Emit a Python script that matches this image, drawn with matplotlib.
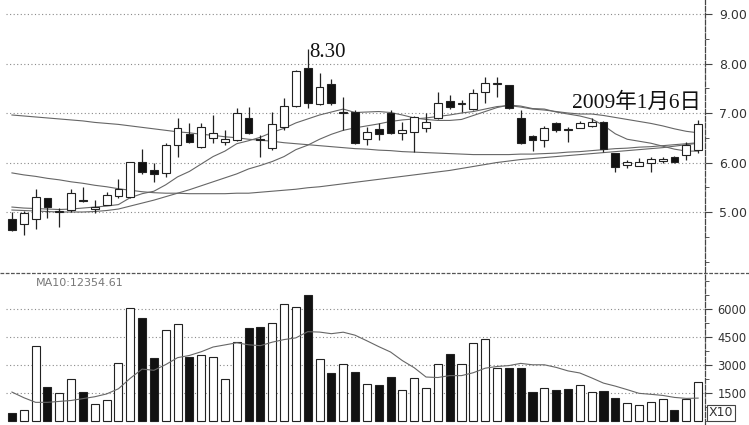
import matplotlib
matplotlib.use('Agg')
import matplotlib.pyplot as plt
from matplotlib.lines import Line2D
from matplotlib.ticker import FixedLocator, MultipleLocator
import numpy as np

# ---------------- data ----------------
opens  = [4.86, 4.76, 4.86, 5.28, 5.00, 5.04, 5.24, 5.06, 5.14, 5.32,
          5.30, 6.01, 5.85, 5.79, 6.35, 6.58, 6.31, 6.49, 6.41, 6.45,
          6.90, 6.47, 6.29, 6.72, 7.14, 7.91, 7.18, 7.59, 7.00, 7.02,
          6.47, 6.68, 7.00, 6.60, 6.62, 6.70, 6.90, 7.24, 7.18, 7.08,
          7.42, 7.58, 7.57, 6.90, 6.54, 6.45, 6.80, 6.68, 6.70, 6.74,
          6.82, 6.19, 5.95, 5.93, 5.99, 6.04, 6.12, 6.15, 6.25]
highs  = [5.00, 5.02, 5.46, 5.28, 5.08, 5.46, 5.50, 5.24, 5.40, 5.67,
          6.01, 6.27, 5.99, 6.40, 6.90, 6.80, 6.80, 6.96, 6.66, 7.10,
          7.12, 6.56, 7.02, 7.30, 7.87, 8.30, 7.81, 7.69, 7.32, 7.06,
          6.72, 6.80, 7.06, 6.82, 6.94, 7.00, 7.42, 7.36, 7.26, 7.48,
          7.73, 7.73, 7.57, 7.06, 6.56, 6.74, 6.82, 6.72, 6.84, 6.90,
          6.84, 6.20, 6.05, 6.09, 6.11, 6.12, 6.14, 6.41, 6.86]
lows   = [4.62, 4.54, 4.66, 4.88, 4.70, 5.00, 5.20, 4.98, 5.14, 5.28,
          5.28, 5.77, 5.61, 5.71, 6.11, 6.40, 6.30, 6.39, 6.35, 6.43,
          6.58, 6.11, 6.25, 6.66, 7.12, 7.10, 7.16, 7.16, 6.66, 6.37,
          6.35, 6.45, 6.58, 6.45, 6.21, 6.62, 6.88, 7.08, 7.02, 7.06,
          7.20, 7.32, 7.08, 6.37, 6.23, 6.31, 6.62, 6.41, 6.70, 6.72,
          6.21, 5.81, 5.89, 5.93, 5.81, 6.00, 6.00, 6.05, 6.20]
closes = [4.64, 4.98, 5.30, 5.10, 5.02, 5.38, 5.22, 5.10, 5.34, 5.46,
          6.01, 5.81, 5.77, 6.35, 6.70, 6.41, 6.72, 6.60, 6.47, 7.00,
          6.60, 6.45, 6.78, 7.14, 7.85, 7.20, 7.53, 7.20, 7.02, 6.39,
          6.62, 6.58, 6.60, 6.66, 6.92, 6.82, 7.20, 7.12, 7.20, 7.40,
          7.61, 7.60, 7.10, 6.39, 6.45, 6.70, 6.66, 6.66, 6.80, 6.82,
          6.27, 5.91, 6.01, 6.01, 6.07, 6.08, 6.02, 6.35, 6.78]
volumes = [430, 600, 4000, 1820, 1500, 2250, 1550, 900, 1120, 3100,
           6050, 5500, 3380, 4880, 5200, 3430, 3540, 3430, 2250, 4230,
           4980, 5040, 5250, 6270, 6110, 6750, 3320, 2570, 3050, 2620,
           1980, 1930, 2360, 1660, 2300, 1770, 3050, 3590, 3050, 4180,
           4400, 2840, 2840, 2840, 1550, 1770, 1660, 1710, 1930, 1550,
           1610, 1230, 960, 860, 1020, 1180, 590, 1180, 2090]
ma10 = [5.10, 5.08, 5.07, 5.06, 5.05, 5.06, 5.08, 5.10, 5.12, 5.15,
        5.29, 5.37, 5.42, 5.55, 5.71, 5.82, 5.97, 6.12, 6.23, 6.38,
        6.44, 6.51, 6.61, 6.69, 6.80, 6.88, 6.96, 7.02, 7.08, 7.01,
        7.02, 7.03, 7.01, 6.96, 6.90, 6.87, 6.85, 6.85, 6.87, 6.95,
        7.03, 7.11, 7.16, 7.14, 7.09, 7.08, 7.02, 6.98, 6.94, 6.88,
        6.75, 6.58, 6.47, 6.43, 6.39, 6.33, 6.27, 6.23, 6.23]
ma20 = [5.04, 5.03, 5.02, 5.01, 5.00, 5.00, 5.00, 5.01, 5.03, 5.06,
        5.12, 5.18, 5.24, 5.31, 5.38, 5.45, 5.53, 5.61, 5.69, 5.77,
        5.87, 5.94, 6.02, 6.12, 6.26, 6.35, 6.47, 6.57, 6.65, 6.70,
        6.74, 6.78, 6.83, 6.86, 6.88, 6.90, 6.93, 6.96, 7.00, 7.03,
        7.08, 7.13, 7.15, 7.12, 7.08, 7.06, 7.03, 7.00, 6.98, 6.98,
        6.95, 6.91, 6.87, 6.83, 6.79, 6.74, 6.68, 6.63, 6.60]
ma60 = [5.79, 5.75, 5.72, 5.68, 5.65, 5.61, 5.58, 5.54, 5.51, 5.47,
        5.44, 5.41, 5.39, 5.38, 5.38, 5.37, 5.37, 5.37, 5.37, 5.38,
        5.38, 5.40, 5.42, 5.44, 5.46, 5.49, 5.51, 5.54, 5.57, 5.60,
        5.63, 5.66, 5.69, 5.72, 5.75, 5.78, 5.81, 5.84, 5.88, 5.92,
        5.96, 6.00, 6.03, 6.06, 6.08, 6.10, 6.12, 6.14, 6.16, 6.18,
        6.20, 6.22, 6.24, 6.26, 6.28, 6.30, 6.33, 6.36, 6.39]
ma120 = [6.96, 6.94, 6.92, 6.90, 6.88, 6.86, 6.84, 6.81, 6.79, 6.77,
         6.74, 6.71, 6.68, 6.65, 6.62, 6.60, 6.57, 6.55, 6.52, 6.50,
         6.47, 6.45, 6.43, 6.40, 6.38, 6.36, 6.34, 6.32, 6.30, 6.28,
         6.27, 6.25, 6.24, 6.22, 6.21, 6.20, 6.19, 6.18, 6.17, 6.16,
         6.16, 6.16, 6.16, 6.17, 6.17, 6.18, 6.19, 6.21, 6.22, 6.24,
         6.26, 6.28, 6.29, 6.31, 6.32, 6.34, 6.36, 6.38, 6.40]
vol_ma10 = [1550, 1250, 1000, 1000, 1050, 1100, 1200, 1300, 1450, 1727,
            2289, 2779, 2717, 3023, 3393, 3511, 3710, 3963, 4076, 4189,
            4082, 4036, 4223, 4362, 4453, 4785, 4763, 4677, 4757, 4596,
            4296, 3985, 3696, 3235, 2854, 2356, 2329, 2431, 2431, 2587,
            2829, 2920, 2968, 3086, 3011, 3011, 2872, 2684, 2572, 2309,
            2030, 1869, 1681, 1483, 1430, 1371, 1264, 1211, 1227]
price_ticks = [5, 6, 7, 8, 9]
price_labels = ['5.00', '6.00', '7.00', '8.00', '9.00']
vol_ticks = [1500, 3000, 4500, 6000]
vol_labels = ['1500', '3000', '4500', '6000']
peak_label = '8.30'
date_label = '2009年1月6日'
ma_label = 'MA10:12354.61'

# ---------------- layout ----------------
W, H = 749, 425
fig = plt.figure(figsize=(W / 100, H / 100), dpi=100)
fig.patch.set_facecolor('white')
ax = fig.add_axes([0, 1 - 272 / H, 705 / W, 272 / H])
axv = fig.add_axes([0, 1 - 424 / H, 705 / W, 151 / H])

n = len(closes)
idx = np.arange(n)
xlim = (-1.01, 58.58)
edge = '#222222'
grid_col = '#8a8a8a'
ma_col = '#666666'

# candles
bw = 0.66
for i in range(n):
    o, h, l, c = opens[i], highs[i], lows[i], closes[i]
    up = c >= o
    top, bot = max(o, c), min(o, c)
    ax.vlines(i, top, h, color=edge, lw=0.9, zorder=3)
    ax.vlines(i, l, bot, color=edge, lw=0.9, zorder=3)
    ax.bar(i, max(top - bot, 0.012), bottom=bot, width=bw,
           facecolor='white' if up else '#111111',
           edgecolor=edge, lw=0.8, zorder=4)

for ser in (ma10, ma20, ma60, ma120):
    ax.plot(idx, ser, color=ma_col, lw=0.8, zorder=2)

ax.set_xlim(*xlim)
ax.set_ylim(3.788, 9.283)

# volume
vcols = ['white' if closes[i] >= opens[i] else '#111111' for i in range(n)]
axv.bar(idx, volumes, width=0.68, color=vcols, edgecolor=edge, lw=0.8, zorder=3)
axv.plot(idx, vol_ma10, color=ma_col, lw=0.8, zorder=4)
axv.set_xlim(*xlim)
axv.set_ylim(-160, 7927)

for a, ticks, labels, minor, lsz, pad in ((ax, price_ticks, price_labels, 0.5, 9, 5),
                                          (axv, vol_ticks, vol_labels, 750, 8.3, 4)):
    for t in ticks:
        a.axhline(t, xmin=0.008, xmax=1, color=grid_col, lw=0.8,
                  ls=(0, (1, 2.2)), zorder=1)
    a.yaxis.tick_right()
    a.yaxis.set_major_locator(FixedLocator(ticks))
    a.set_yticklabels(labels)
    a.yaxis.set_minor_locator(MultipleLocator(minor))
    a.tick_params(axis='y', which='major', direction='out', length=5,
                  width=0.8, color='#444444', pad=pad, labelsize=lsz,
                  labelcolor='#333333')
    a.tick_params(axis='y', which='minor', direction='out', length=3,
                  width=0.7, color='#555555')
    a.set_xticks([])
    for s in ('top', 'left', 'bottom'):
        a.spines[s].set_visible(False)
    a.spines['right'].set_color('#444444')
    a.spines['right'].set_linewidth(0.9)
    a.spines['right'].set_linestyle((0, (4, 1.5)))
    a.patch.set_alpha(0)

# separator between panels
fig.add_artist(Line2D([0, 1], [1 - 272.5 / H] * 2, transform=fig.transFigure,
                      color='#555555', lw=0.9, ls=(0, (3, 1.2))))

# annotations
ax.text(25.1, 8.23, peak_label, ha='left', va='center', fontsize=15,
        family=['Liberation Serif', 'Noto Sans CJK SC'], color='#111111', zorder=6)
ax.text(58.2, 7.2, date_label, ha='right', va='center', fontsize=15.5,
        family=['Liberation Serif', 'Noto Sans CJK SC'], color='#111111', zorder=6)
fig.text(36 / W, 1 - 283 / H, ma_label, ha='left', va='center',
         fontsize=8, color='#777777')
fig.text(721 / W, 1 - 413 / H, 'X10', ha='center', va='center', fontsize=9,
         color='#333333',
         bbox=dict(boxstyle='square,pad=0.15', facecolor='white',
                   edgecolor='#444444', lw=0.8))

fig.savefig('out.png', dpi=100, facecolor='white')
